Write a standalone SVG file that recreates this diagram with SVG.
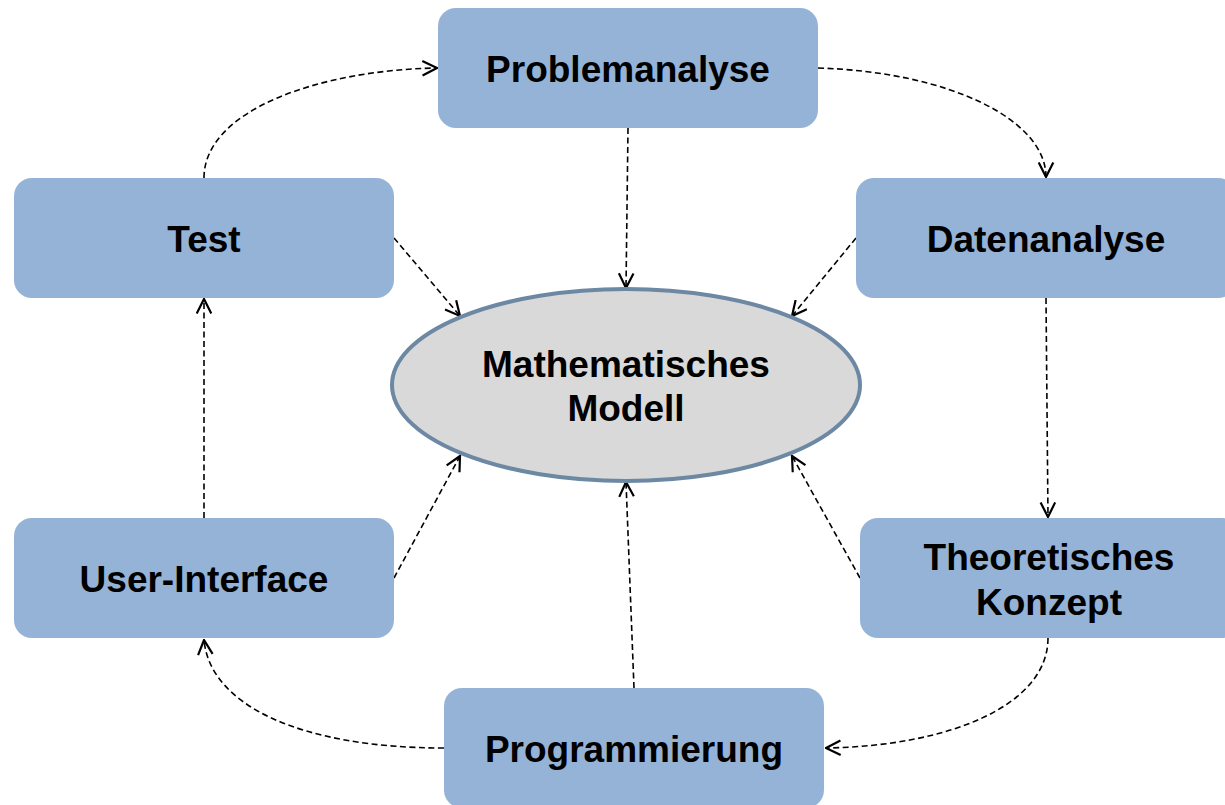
<svg xmlns="http://www.w3.org/2000/svg" width="1225" height="805" viewBox="0 0 1225 805">
<style>
.box{fill:#95B3D7;}
.lbl{font-family:"Liberation Sans",Arial,sans-serif;font-weight:bold;font-size:37px;fill:#000;text-anchor:middle;}
.con{fill:none;stroke:#000;stroke-width:1.6;stroke-dasharray:6,3.5;marker-end:url(#arr);}
</style>
<defs>
<marker id="arr" markerUnits="userSpaceOnUse" viewBox="0 0 14 14" markerWidth="17" markerHeight="17" refX="13" refY="7" orient="auto">
<path d="M1,1 L13,7 L1,13" fill="none" stroke="#000" stroke-width="1.8"/>
</marker>
</defs>
<rect width="1225" height="805" fill="#fff"/>
<g id="connectors">
<path class="con" d="M204,178 C204,110 320,70 437,68"/>
<path class="con" d="M818,68 C950,72 1046,120 1046,177"/>
<path class="con" d="M628,128 L626,288"/>
<path class="con" d="M394,238 L460,316"/>
<path class="con" d="M856,238 L792,316"/>
<path class="con" d="M1046,298 L1048,517"/>
<path class="con" d="M1048,638 C1048,705 950,746 826,748"/>
<path class="con" d="M444,748 C300,748 210,705 204,640"/>
<path class="con" d="M634,688 L626,482"/>
<path class="con" d="M394,578 L460,456"/>
<path class="con" d="M860,578 L792,456"/>
<path class="con" d="M204,518 L204,299"/>
</g>
<g id="modell">
<ellipse cx="626" cy="385" rx="234" ry="96" fill="#D9D9D9" stroke="#6C88A3" stroke-width="4"/>
<text class="lbl" x="626" y="377">Mathematisches</text>
<text class="lbl" x="626" y="421">Modell</text>
</g>
<g id="problemanalyse">
<rect class="box" x="438" y="8" width="380" height="120" rx="18"/>
<text class="lbl" x="628" y="82">Problemanalyse</text>
</g>
<g id="test">
<rect class="box" x="14" y="178" width="380" height="120" rx="18"/>
<text class="lbl" x="204" y="252">Test</text>
</g>
<g id="datenanalyse">
<rect class="box" x="856" y="178" width="380" height="120" rx="18"/>
<text class="lbl" x="1046" y="252">Datenanalyse</text>
</g>
<g id="userinterface">
<rect class="box" x="14" y="518" width="380" height="120" rx="18"/>
<text class="lbl" x="204" y="592">User-Interface</text>
</g>
<g id="konzept">
<rect class="box" x="860" y="518" width="380" height="120" rx="18"/>
<text class="lbl" x="1049" y="570">Theoretisches</text>
<text class="lbl" x="1049" y="615">Konzept</text>
</g>
<g id="programmierung">
<rect class="box" x="444" y="688" width="380" height="120" rx="18"/>
<text class="lbl" x="634" y="762">Programmierung</text>
</g>
</svg>
